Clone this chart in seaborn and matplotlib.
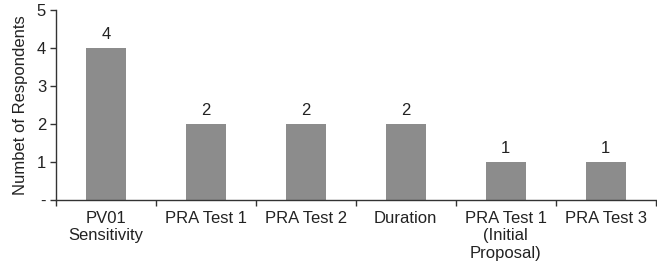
import numpy as np
import pandas as pd
import seaborn as sns
import matplotlib.pyplot as plt
from matplotlib.ticker import FixedLocator

# --- data ---
categories = ["PV01\nSensitivity", "PRA Test 1", "PRA Test 2", "Duration",
              "PRA Test 1\n(Initial\nProposal)", "PRA Test 3"]
respondents = [4, 2, 2, 2, 1, 1]
y_ticks = [0, 1, 2, 3, 4, 5]
y_tick_labels = ["-", "1", "2", "3", "4", "5"]

df = pd.DataFrame({"Category": categories, "Respondents": respondents})

sns.set_theme(style="white")
plt.rcParams['font.family'] = ['Liberation Sans', 'DejaVu Sans']

fig = plt.figure(figsize=(6.57, 2.72), dpi=100)
ax = fig.add_axes([0.085, 0.265, 0.913, 0.698])

sns.barplot(data=df, x="Category", y="Respondents", color="#8c8c8c",
            saturation=1, width=0.4, linewidth=0, ax=ax)

fs = 12
for c in ax.containers:
    ax.bar_label(c, fmt="%d", padding=4, fontsize=fs, color="#222222")

ax.set_xlim(-0.5, len(categories) - 0.5)
ax.set_ylim(0, 5)
ax.set_yticks(y_ticks)
ax.set_yticklabels(y_tick_labels)
ax.set_xlabel("")
ax.set_ylabel("Numbet of Respondents", fontsize=fs, color="#222222", labelpad=6)

# category boundary ticks
ax.xaxis.set_minor_locator(FixedLocator(np.arange(-0.5, len(categories), 1.0)))
ax.tick_params(axis="x", which="major", length=0, pad=8, labelsize=fs, labelcolor="#222222")
ax.tick_params(axis="x", which="minor", length=4, width=1, color="#333333", direction="out", bottom=True)
ax.tick_params(axis="y", length=4, width=1, color="#333333", direction="out", left=True,
               labelsize=fs, labelcolor="#222222", pad=3)

for side in ["top", "right"]:
    ax.spines[side].set_visible(False)
for side in ["left", "bottom"]:
    ax.spines[side].set_color("#333333")
    ax.spines[side].set_linewidth(1)

plt.savefig("out.png", dpi=100)
